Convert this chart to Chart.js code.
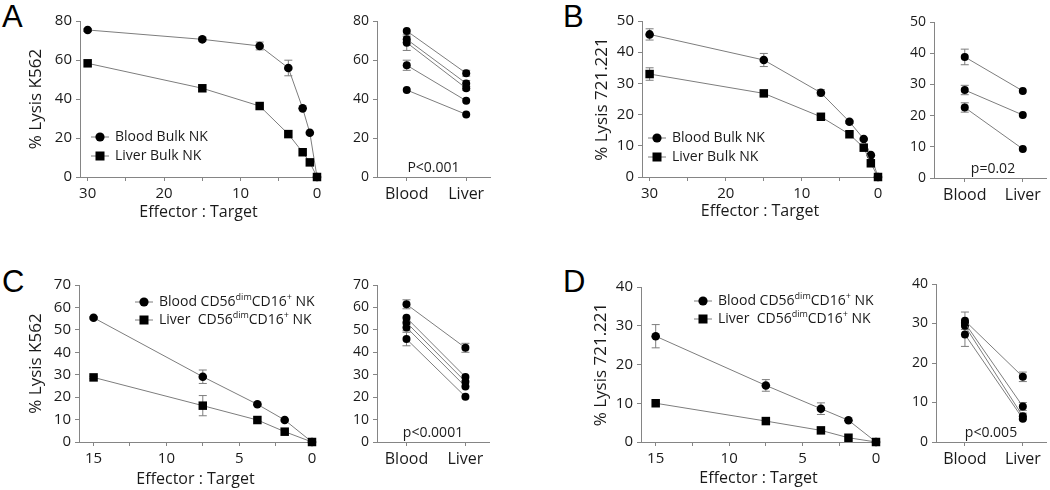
<!DOCTYPE html>
<html lang="en">
<head>
<meta charset="UTF-8" />
<title>NK cell lysis - Chart.js</title>
<style>
  body {
    margin: 0;
    background: #fff;
    width: 1050px;
    height: 490px;
    position: relative;
    overflow: hidden;
  }
  canvas { position: absolute; }
  .letter {
    position: absolute;
    font-family: "Liberation Sans", Arial, sans-serif;
    font-size: 31px;
    line-height: 1;
    color: #000;
  }
</style>
</head>
<body>

<div class="letter" style="left:2px;top:1px">A</div>
<div class="letter" style="left:563px;top:1px">B</div>
<div class="letter" style="left:2px;top:266px">C</div>
<div class="letter" style="left:563px;top:266px">D</div>

<canvas id="aLeft"></canvas>
<canvas id="aRight"></canvas>
<canvas id="bLeft"></canvas>
<canvas id="bRight"></canvas>
<canvas id="cLeft"></canvas>
<canvas id="cRight"></canvas>
<canvas id="dLeft"></canvas>
<canvas id="dRight"></canvas>

<script src="https://cdn.jsdelivr.net/npm/chart.js@4"></script>
<script>
  // ---- data ----
  const ratiosAB = [30, 15, 7.5, 3.75, 1.875, 0.94, 0];
  const ratiosCD = [15, 7.5, 3.75, 1.875, 0];
  const ticksAB = [30, 25, 20, 15, 10, 5, 0];
  const ticksCD = [15, 12.5, 10, 7.5, 5, 2.5, 0];
  const groups = ['Blood', 'Liver'];

  // A: K562, bulk NK
  const bloodA = [75.4, 70.6, 67.2, 55.9, 35.2, 22.7, 0];
  const bloodAErr = [0.8, 1, 2, 4, 0, 0, 0];
  const liverA = [58.3, 45.5, 36.4, 22, 12.7, 7.5, 0];
  const liverAErr = [0, 0, 0, 0, 0, 0, 0];
  const donorBloodA = [74.9, 70.6, 68.9, 57.3, 44.6];
  const donorBloodAErr = [0, 1.5, 4, 2.6, 0];
  const donorLiverA = [53.2, 48, 45.5, 39.1, 32.1];
  const donorLiverAErr = [1.5, 1.5, 1, 0, 0];
  const yTicksA = [0, 20, 40, 60, 80];

  // B: 721.221, bulk NK
  const bloodB = [45.7, 37.5, 27, 17.7, 12.2, 7, 0];
  const bloodBErr = [1.8, 2.1, 1, 0.5, 0, 0, 0];
  const liverB = [33, 26.8, 19.3, 13.7, 9.4, 4.4, 0];
  const liverBErr = [2, 0.8, 0, 0, 0, 0, 0];
  const donorBloodB = [38.8, 28.2, 22.6];
  const donorBloodBErr = [2.5, 1.5, 1.5];
  const donorLiverB = [27.9, 20.2, 9.3];
  const donorLiverBErr = [0, 0, 0];
  const yTicksB = [0, 10, 20, 30, 40, 50];

  // C: K562, CD56dim CD16+
  const bloodC = [55.4, 29.1, 16.8, 9.8, 0];
  const bloodCErr = [0.5, 3, 0.5, 0, 0];
  const liverC = [28.8, 16.2, 9.8, 4.6, 0];
  const liverCErr = [0.5, 4.5, 0, 0, 0];
  const donorBloodC = [61.4, 55.4, 53.3, 51.1, 45.9];
  const donorBloodCErr = [2, 0, 0, 1.5, 3];
  const donorLiverC = [42, 29, 26.9, 24.7, 20.2];
  const donorLiverCErr = [2, 0, 0, 0, 0];
  const yTicksC = [0, 10, 20, 30, 40, 50, 60, 70];

  // D: 721.221, CD56dim CD16+
  const bloodD = [27.3, 14.6, 8.6, 5.6, 0];
  const bloodDErr = [3, 1.5, 1.5, 0, 0];
  const liverD = [10, 5.4, 3, 1.1, 0];
  const liverDErr = [0, 0, 0, 0, 0];
  const donorBloodD = [30.7, 30.1, 29.4, 27.2];
  const donorBloodDErr = [2.2, 0, 0, 3];
  const donorLiverD = [16.5, 9, 6.5, 5.9];
  const donorLiverDErr = [1.2, 1, 0.8, 0];
  const yTicksD = [0, 10, 20, 30, 40];

  // ---- styles ----
  const FONT = '"Open Sans", sans-serif';
  const LINE = '#7d7d7d';
  const AXIS = '#858585';
  const TEXT = '#1a1a1a';

  // error bars under the markers
  const errorBars = {
    id: 'errorBars',
    beforeDatasetsDraw(chart) {
      const ctx = chart.ctx;
      const y = chart.scales.y;
      ctx.save();
      ctx.strokeStyle = LINE;
      ctx.lineWidth = 1;
      chart.data.datasets.forEach((ds, i) => {
        if (!ds.errors) return;
        const meta = chart.getDatasetMeta(i);
        meta.data.forEach((pt, j) => {
          const e = ds.errors[j];
          if (!e) return;
          const v = ds.data[j].y;
          const t = y.getPixelForValue(v + e);
          const b = y.getPixelForValue(v - e);
          ctx.beginPath();
          ctx.moveTo(pt.x, t); ctx.lineTo(pt.x, b);
          ctx.moveTo(pt.x - 4, t); ctx.lineTo(pt.x + 4, t);
          ctx.moveTo(pt.x - 4, b); ctx.lineTo(pt.x + 4, b);
          ctx.stroke();
        });
      });
      ctx.restore();
    }
  };

  // legend drawn inside the plot, "-o-" symbol style
  const insetLegend = {
    id: 'insetLegend',
    afterDraw(chart, args, opts) {
      if (!opts.items) return;
      const { ctx, chartArea } = chart;
      ctx.save();
      opts.items.forEach((item, k) => {
        const cx = chartArea.left + opts.x;
        const cy = chartArea.top + opts.y + k * opts.rowGap;
        ctx.strokeStyle = LINE;
        ctx.lineWidth = 1;
        ctx.beginPath();
        ctx.moveTo(cx - 9, cy); ctx.lineTo(cx + 9, cy);
        ctx.stroke();
        ctx.fillStyle = '#000';
        if (item.marker === 'rect') {
          ctx.fillRect(cx - 4.5, cy - 4.5, 9, 9);
        } else {
          ctx.beginPath(); ctx.arc(cx, cy, 4.6, 0, Math.PI * 2); ctx.fill();
        }
        let tx = cx + 15;
        ctx.fillStyle = TEXT;
        ctx.textBaseline = 'middle';
        ctx.textAlign = 'left';
        item.parts.forEach(([txt, sup]) => {
          ctx.font = (sup ? '9px ' : '14px ') + FONT;
          ctx.fillText(txt, tx, sup ? cy - 5 : cy);
          tx += ctx.measureText(txt).width;
        });
      });
      ctx.restore();
    }
  };

  // p-value text at the foot of the paired plots
  const pLabel = {
    id: 'pLabel',
    afterDraw(chart, args, opts) {
      if (!opts.text) return;
      const { ctx, chartArea } = chart;
      ctx.save();
      ctx.font = '14px ' + FONT;
      ctx.fillStyle = TEXT;
      ctx.textAlign = 'center';
      ctx.textBaseline = 'middle';
      ctx.fillText(opts.text, (chartArea.left + chartArea.right) / 2 + (opts.dx || 0), chartArea.bottom - 9);
      ctx.restore();
    }
  };

  function pts(xs, ys) {
    return ys.map((v, i) => ({ x: xs[i], y: v }));
  }

  function axisBase(tickFont) {
    return {
      type: 'linear',
      grid: { drawOnChartArea: false, drawTicks: true, tickLength: 4, color: AXIS },
      border: { display: true, color: AXIS, width: 1 },
      ticks: { font: { family: FONT, size: tickFont }, color: TEXT, padding: 4, maxRotation: 0, autoSkip: false }
    };
  }

  // canvas box and plot box are in page pixels
  function makeChart(id, box, area, cfg) {
    const el = document.getElementById(id);
    el.width = box.w; el.height = box.h;
    el.style.left = box.x + 'px'; el.style.top = box.y + 'px';
    el.style.width = box.w + 'px'; el.style.height = box.h + 'px';
    const yW = area.l - box.x;
    const xH = box.y + box.h - area.b;

    const x = axisBase(cfg.xFont);
    Object.assign(x, { min: cfg.xMin, max: cfg.xMax, reverse: !!cfg.reverse });
    x.afterBuildTicks = s => { s.ticks = cfg.xTicks.map(v => ({ value: v })); };
    x.ticks.callback = cfg.xLabel;
    x.afterFit = s => { s.height = xH; };
    if (cfg.xTitle) {
      x.title = { display: true, text: cfg.xTitle, color: TEXT,
        font: { family: FONT, size: 16 }, padding: { top: 0, bottom: cfg.xTitlePad } };
    }

    const y = axisBase(cfg.yFont);
    Object.assign(y, { min: cfg.yTicks[0], max: cfg.yTicks[cfg.yTicks.length - 1] });
    y.afterBuildTicks = s => { s.ticks = cfg.yTicks.map(v => ({ value: v })); };
    y.afterFit = s => { s.width = yW; };
    if (cfg.yTitle) {
      y.title = { display: true, text: cfg.yTitle, color: TEXT,
        font: { family: FONT, size: 17 }, padding: { top: cfg.yTitlePad, bottom: 0 } };
    }

    return new Chart(el, {
      type: 'scatter',
      data: { datasets: cfg.datasets },
      options: {
        responsive: false,
        animation: false,
        devicePixelRatio: 1,
        layout: { padding: { top: area.t - box.y, right: box.x + box.w - area.r, bottom: 0, left: 0 } },
        scales: { x, y },
        plugins: {
          legend: { display: false },
          tooltip: { enabled: false },
          insetLegend: cfg.legend || {},
          pLabel: cfg.p || {}
        }
      },
      plugins: [errorBars, insetLegend, pLabel]
    });
  }

  function curve(xs, ys, errs, marker, order) {
    return {
      data: pts(xs, ys),
      errors: errs,
      showLine: true,
      borderColor: LINE,
      borderWidth: 1,
      pointStyle: marker,
      pointRadius: marker === 'rect' ? 6 : 4.3,
      pointBackgroundColor: '#000',
      pointBorderWidth: 0,
      order: order,
      clip: false
    };
  }

  function pairs(blood, bloodErr, liver, liverErr) {
    return blood.map((b, i) => ({
      data: pts([1, 2], [b, liver[i]]),
      errors: [bloodErr[i], liverErr[i]],
      showLine: true,
      borderColor: LINE,
      borderWidth: 1,
      pointStyle: 'circle',
      pointRadius: 4,
      pointBackgroundColor: '#000',
      pointBorderWidth: 0,
      clip: false
    }));
  }

  const showEvery = step => v => (Math.abs(v / step - Math.round(v / step)) < 1e-6 ? String(v) : '');
  const groupLabel = v => groups[v - 1] || '';

  const bulkLegend = [
    { marker: 'circle', parts: [['Blood Bulk NK']] },
    { marker: 'rect', parts: [['Liver Bulk NK']] }
  ];
  const dimLegend = [
    { marker: 'circle', parts: [['Blood CD56'], ['dim', true], ['CD16'], ['+', true], [' NK']] },
    { marker: 'rect', parts: [['Liver  CD56'], ['dim', true], ['CD16'], ['+', true], [' NK']] }
  ];

  // ---- A ----
  makeChart('aLeft', { x: 0, y: 0, w: 340, h: 230 }, { l: 80, t: 21, r: 317, b: 177 }, {
    xMin: 0, xMax: 31, reverse: true, xTicks: ticksAB, xLabel: showEvery(10), xFont: 15,
    xTitle: 'Effector : Target', xTitlePad: 8,
    yTicks: yTicksA, yFont: 15, yTitle: '% Lysis K562', yTitlePad: 26,
    datasets: [curve(ratiosAB, bloodA, bloodAErr, 'circle', 2), curve(ratiosAB, liverA, liverAErr, 'rect', 1)],
    legend: { x: 20, y: 116, rowGap: 19, items: bulkLegend }
  });
  makeChart('aRight', { x: 340, y: 0, w: 160, h: 230 }, { l: 377, t: 21, r: 490, b: 177 }, {
    xMin: 0.5, xMax: 2.4, xTicks: [1, 2], xLabel: groupLabel, xFont: 16,
    yTicks: yTicksA, yFont: 14,
    datasets: pairs(donorBloodA, donorBloodAErr, donorLiverA, donorLiverAErr),
    p: { text: 'P<0.001' }
  });

  // ---- B ----
  makeChart('bLeft', { x: 560, y: 0, w: 330, h: 230 }, { l: 642, t: 21, r: 878, b: 177 }, {
    xMin: 0, xMax: 31, reverse: true, xTicks: ticksAB, xLabel: showEvery(10), xFont: 15,
    xTitle: 'Effector : Target', xTitlePad: 9,
    yTicks: yTicksB, yFont: 15, yTitle: '% Lysis 721.221', yTitlePad: 32,
    datasets: [curve(ratiosAB, bloodB, bloodBErr, 'circle', 2), curve(ratiosAB, liverB, liverBErr, 'rect', 1)],
    legend: { x: 15, y: 117, rowGap: 19, items: bulkLegend }
  });
  makeChart('bRight', { x: 890, y: 0, w: 160, h: 230 }, { l: 934, t: 22, r: 1048, b: 178 }, {
    xMin: 0.47, xMax: 2.4, xTicks: [1, 2], xLabel: groupLabel, xFont: 16,
    yTicks: yTicksB, yFont: 14,
    datasets: pairs(donorBloodB, donorBloodBErr, donorLiverB, donorLiverBErr),
    p: { text: 'p=0.02', dx: 3 }
  });

  // ---- C ----
  makeChart('cLeft', { x: 0, y: 250, w: 340, h: 240 }, { l: 79, t: 285, r: 312, b: 442 }, {
    xMin: 0, xMax: 16, reverse: true, xTicks: ticksCD, xLabel: showEvery(5), xFont: 15,
    xTitle: 'Effector : Target', xTitlePad: 1,
    yTicks: yTicksC, yFont: 15, yTitle: '% Lysis K562', yTitlePad: 26,
    datasets: [curve(ratiosCD, bloodC, bloodCErr, 'circle', 2), curve(ratiosCD, liverC, liverCErr, 'rect', 1)],
    legend: { x: 65, y: 17, rowGap: 18, items: dimLegend }
  });
  makeChart('cRight', { x: 340, y: 250, w: 160, h: 240 }, { l: 377, t: 285, r: 489, b: 442 }, {
    xMin: 0.5, xMax: 2.4, xTicks: [1, 2], xLabel: groupLabel, xFont: 16,
    yTicks: yTicksC, yFont: 14,
    datasets: pairs(donorBloodC, donorBloodCErr, donorLiverC, donorLiverCErr),
    p: { text: 'p<0.0001' }
  });

  // ---- D ----
  makeChart('dLeft', { x: 560, y: 250, w: 330, h: 240 }, { l: 641, t: 287, r: 876, b: 442 }, {
    xMin: 0, xMax: 16, reverse: true, xTicks: ticksCD, xLabel: showEvery(5), xFont: 15,
    xTitle: 'Effector : Target', xTitlePad: 2,
    yTicks: yTicksD, yFont: 15, yTitle: '% Lysis 721.221', yTitlePad: 31,
    datasets: [curve(ratiosCD, bloodD, bloodDErr, 'circle', 2), curve(ratiosCD, liverD, liverDErr, 'rect', 1)],
    legend: { x: 62, y: 14, rowGap: 18, items: dimLegend }
  });
  makeChart('dRight', { x: 890, y: 250, w: 160, h: 240 }, { l: 936, t: 284, r: 1048, b: 442 }, {
    xMin: 0.5, xMax: 2.4, xTicks: [1, 2], xLabel: groupLabel, xFont: 16,
    yTicks: yTicksD, yFont: 14,
    datasets: pairs(donorBloodD, donorBloodDErr, donorLiverD, donorLiverDErr),
    p: { text: 'p<0.005' }
  });
</script>

</body>
</html>
